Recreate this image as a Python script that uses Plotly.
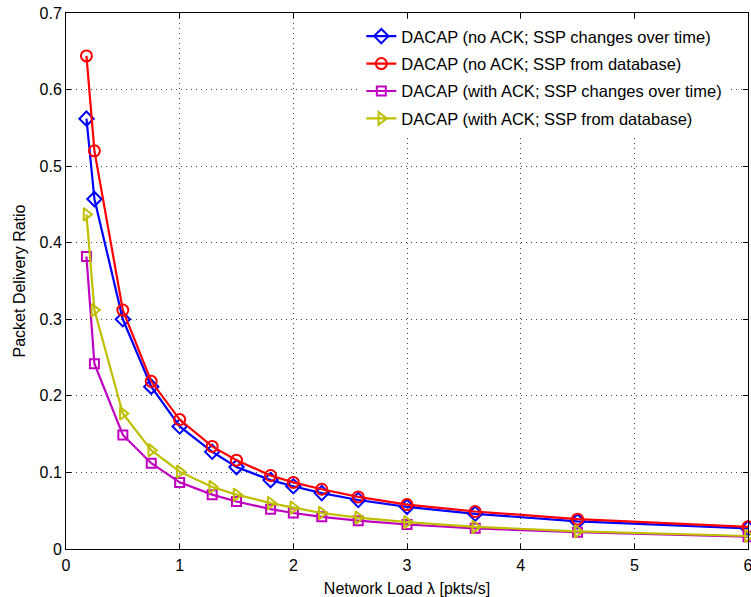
import plotly.graph_objects as go

x_load = [0.18, 0.25, 0.5, 0.75, 1.0, 1.286, 1.5, 1.8, 2.0, 2.25, 2.571, 3.0, 3.6, 4.5, 6.0]

noack_time = [0.562, 0.457, 0.300, 0.212, 0.160, 0.127, 0.107, 0.090, 0.082, 0.073, 0.064, 0.055, 0.046, 0.036, 0.027]
noack_db = [0.644, 0.520, 0.312, 0.219, 0.169, 0.134, 0.116, 0.096, 0.087, 0.078, 0.068, 0.058, 0.049, 0.039, 0.029]
ack_time = [0.382, 0.242, 0.149, 0.112, 0.087, 0.071, 0.062, 0.052, 0.047, 0.042, 0.037, 0.032, 0.027, 0.022, 0.016]
ack_db = [0.437, 0.312, 0.177, 0.129, 0.101, 0.081, 0.071, 0.060, 0.054, 0.047, 0.041, 0.035, 0.029, 0.023, 0.017]

names = [
    "DACAP (no ACK; SSP changes over time)",
    "DACAP (no ACK; SSP from database)",
    "DACAP (with ACK; SSP changes over time)",
    "DACAP (with ACK; SSP from database)",
]
series = [noack_time, noack_db, ack_time, ack_db]
colors = ["#0000FF", "#FF0000", "#BF00BF", "#BFBF00"]
symbols = ["diamond-open", "circle-open", "square-open", "triangle-right-open"]
sizes = [11, 11, 9, 11]

fig = go.Figure()
for i, (nm, ys) in enumerate(zip(names, series)):
    fig.add_trace(go.Scatter(
        x=x_load, y=ys, name=nm, mode="lines+markers",
        legendgroup=f"g{i}", cliponaxis=False,
        line=dict(color=colors[i], width=2.2),
        marker=dict(symbol=symbols[i], size=sizes[i], color=colors[i],
                    line=dict(width=2, color=colors[i])),
    ))

fam = "Liberation Sans, Arial, sans-serif"
font = dict(family=fam, size=16, color="black")
axis_common = dict(
    showline=True, linecolor="black", linewidth=1, mirror="ticks",
    ticks="inside", ticklen=5, tickcolor="black",
    showgrid=True, gridcolor="#444444", griddash="1px,4px", gridwidth=1,
    zeroline=False, tickfont=font, automargin=False, ticklabeloverflow="allow",
)
fig.update_xaxes(range=[0, 6], dtick=1, ticklabelstandoff=2,
                 title=dict(text="Network Load λ [pkts/s]", font=font, standoff=9), **axis_common)
fig.update_yaxes(range=[0, 0.7], dtick=0.1,
                 title=dict(text="Packet Delivery Ratio", font=font, standoff=9), **axis_common)

fig.update_layout(
    width=751, height=597,
    margin=dict(l=66, r=3, t=13, b=48),
    paper_bgcolor="white", plot_bgcolor="white",
    font=font,
    showlegend=True,
    legend=dict(x=0.433, y=0.989, xanchor="left", yanchor="top",
                bgcolor="white", borderwidth=0, tracegroupgap=3,
                font=dict(family=fam, size=16.5, color="black")),
)

fig.write_html("out.html", config={"displayModeBar": False},
               post_script="document.body.style.margin='0px';document.body.style.overflow='hidden';")
